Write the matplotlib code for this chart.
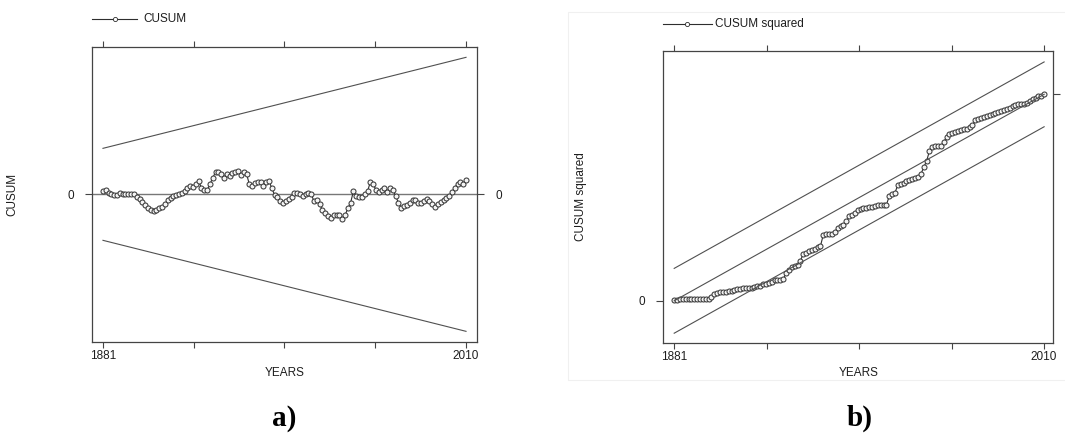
import matplotlib
matplotlib.use("Agg")
import matplotlib.pyplot as plt
from matplotlib.lines import Line2D
from matplotlib.patches import Rectangle
import numpy as np

plt.rcParams['font.family'] = ['Liberation Sans', 'DejaVu Sans']

# ---------------- data ----------------
years = list(range(1881, 2011))
xtick_positions = [1881, 1913.25, 1945.5, 1977.75, 2010]
xtick_labels = ['1881', '', '', '', '2010']

cusum = [10, 12, 5, 2, -1, -1, 5, 1, 0, 1,
         2, 0, -7, -15, -24, -33, -42, -47, -50, -46,
         -42, -37, -29, -18, -10, -5, -2, 0, 4, 9,
         20, 26, 23, 30, 40, 19, 14, 13, 30, 50,
         66, 66, 60, 50, 62, 55, 64, 66, 70, 58,
         66, 62, 30, 26, 33, 38, 36, 26, 36, 40,
         18, -2, -9, -20, -27, -19, -13, -9, 3, 5,
         1, -6, 2, 4, 0, -21, -18, -30, -47, -55,
         -65, -72, -63, -61, -63, -74, -63, -42, -25, 10,
         -6, -9, -7, 0, 9, 37, 30, 14, 8, 14,
         20, 8, 20, 14, -6, -25, -40, -35, -31, -26,
         -18, -17, -26, -26, -20, -13, -20, -30, -37, -30,
         -22, -17, -12, -4, 6, 20, 32, 36, 32, 44]
cusum_bound_start = 138
cusum_bound_end = 411

cusum_sq = [0.002, 0.005, 0.008, 0.010, 0.010, 0.010, 0.011, 0.011, 0.011, 0.011,
            0.011, 0.011, 0.011, 0.016, 0.032, 0.039, 0.042, 0.044, 0.045, 0.047,
            0.049, 0.052, 0.055, 0.058, 0.061, 0.061, 0.061, 0.061, 0.066, 0.071,
            0.074, 0.079, 0.083, 0.086, 0.091, 0.100, 0.102, 0.102, 0.104, 0.134,
            0.150, 0.162, 0.168, 0.175, 0.194, 0.227, 0.233, 0.239, 0.246, 0.252,
            0.259, 0.265, 0.320, 0.324, 0.324, 0.324, 0.333, 0.353, 0.361, 0.369,
            0.385, 0.409, 0.417, 0.427, 0.438, 0.443, 0.448, 0.450, 0.455, 0.456,
            0.460, 0.463, 0.464, 0.466, 0.466, 0.506, 0.515, 0.523, 0.563, 0.568,
            0.573, 0.579, 0.587, 0.591, 0.594, 0.602, 0.612, 0.647, 0.676, 0.725,
            0.744, 0.748, 0.749, 0.751, 0.770, 0.793, 0.806, 0.814, 0.817, 0.822,
            0.825, 0.830, 0.832, 0.841, 0.851, 0.874, 0.880, 0.885, 0.888, 0.893,
            0.898, 0.903, 0.908, 0.916, 0.921, 0.924, 0.927, 0.935, 0.943, 0.947,
            0.951, 0.953, 0.955, 0.956, 0.968, 0.976, 0.984, 0.990, 0.994, 1.000]
sq_center = [0.0, 1.0]
sq_band = 0.157

LINE_C = '#2e2e2e'
BOUND_C = '#505050'
TXT_C = '#1e1e1e'
MK = dict(marker='o', ms=3.6, mfc='#f4f4f4', mec='#3a3a3a', mew=0.75)

fig = plt.figure(figsize=(10.65, 4.48), dpi=100)
W, H = 1065, 448

def ax_rect(x0, y0, x1, y1):
    return [x0 / W, 1 - y1 / H, (x1 - x0) / W, (y1 - y0) / H]

def style_axes(ax):
    for s in ax.spines.values():
        s.set_color('#444444')
        s.set_linewidth(0.9)
    ax.set_xticks(xtick_positions)
    ax.set_xticklabels(xtick_labels, fontsize=8.5, color=TXT_C)
    ax.tick_params(axis='x', which='both', direction='out', length=4, width=0.8,
                   top=True, bottom=True, labeltop=False, color='#444444', pad=2)
    ax.set_xlabel('YEARS', fontsize=8.5, color=TXT_C, labelpad=3)

# ---------------- panel a ----------------
ax1 = fig.add_axes(ax_rect(92, 47, 477, 342))
ax1.plot(years, cusum, color=LINE_C, lw=0.8, **MK)
ends = [years[0], years[-1]]
ax1.plot(ends, [cusum_bound_start, cusum_bound_end], color=BOUND_C, lw=0.8)
ax1.plot(ends, [-cusum_bound_start, -cusum_bound_end], color=BOUND_C, lw=0.8)
ax1.axhline(0, color='#777777', lw=1.0, zorder=0)
ax1.set_xlim(1877.1, 2013.9)
ax1.set_ylim(-443, 442)
style_axes(ax1)
ax1.set_yticks([0])
ax1.set_yticklabels(['0'], fontsize=8.5, color=TXT_C)
ax1.tick_params(axis='y', direction='out', length=5, width=0.8, left=True,
                right=True, labelright=True, color='#444444', pad=8)
ax1.set_ylabel('CUSUM', fontsize=8.5, color=TXT_C)
ax1.yaxis.set_label_coords((18 - 92) / 385, 0.5)

# legend a
fig.add_artist(Line2D([92 / W, 137 / W], [1 - 19.5 / H] * 2, color=LINE_C, lw=0.8))
fig.add_artist(Line2D([115 / W], [1 - 19.5 / H], marker='o', ms=3, mfc='white',
                      mec=LINE_C, mew=0.6, lw=0))
fig.text(143 / W, 1 - 19.5 / H, 'CUSUM', fontsize=8.5, va='center', ha='left', color=TXT_C)

# ---------------- panel b ----------------
fig.add_artist(Rectangle((568 / W, 1 - 380 / H), (W - 566) / W, (380 - 12) / H,
                         transform=fig.transFigure, facecolor='none',
                         edgecolor='#f0f0f0', lw=0.8))
ax2 = fig.add_axes(ax_rect(663.3, 51, 1053.3, 342.7))
ax2.plot(years, cusum_sq, color=LINE_C, lw=0.8, **MK)
ax2.plot(ends, sq_center, color=BOUND_C, lw=0.8)
ax2.plot(ends, [v + sq_band for v in sq_center], color=BOUND_C, lw=0.8)
ax2.plot(ends, [v - sq_band for v in sq_center], color=BOUND_C, lw=0.8)
ax2.set_xlim(1877.2, 2013.2)
ax2.set_ylim(-0.203, 1.21)
style_axes(ax2)
ax2.set_yticks([0])
ax2.set_yticklabels(['0'], fontsize=8.5, color=TXT_C)
ax2.tick_params(axis='y', direction='out', length=5, width=0.8, left=True,
                right=False, color='#444444', pad=8)
ax2r = ax2.twinx()
ax2r.set_ylim(ax2.get_ylim())
ax2r.set_yticks([1.0])
ax2r.set_yticklabels([''])
ax2r.tick_params(axis='y', direction='out', length=5, width=0.8, color='#444444')
for s in ax2r.spines.values():
    s.set_visible(False)
ax2.set_ylabel('CUSUM squared', fontsize=8.5, color=TXT_C)
ax2.yaxis.set_label_coords((587 - 663.3) / 390, 0.5)

# legend b
fig.add_artist(Line2D([663 / W, 712 / W], [1 - 24 / H] * 2, color=LINE_C, lw=0.8))
fig.add_artist(Line2D([687 / W], [1 - 24 / H], marker='o', ms=3, mfc='white',
                      mec=LINE_C, mew=0.6, lw=0))
fig.text(715 / W, 1 - 24 / H, 'CUSUM squared', fontsize=8.5, va='center', ha='left', color=TXT_C)

# panel labels
fig.text(284 / W, 1 - 418 / H, 'a)', fontsize=21, fontweight='bold',
         family='Liberation Serif', ha='center', va='center', color='black')
fig.text(860 / W, 1 - 418 / H, 'b)', fontsize=21, fontweight='bold',
         family='Liberation Serif', ha='center', va='center', color='black')

fig.savefig('out.png', dpi=100, facecolor='white')
